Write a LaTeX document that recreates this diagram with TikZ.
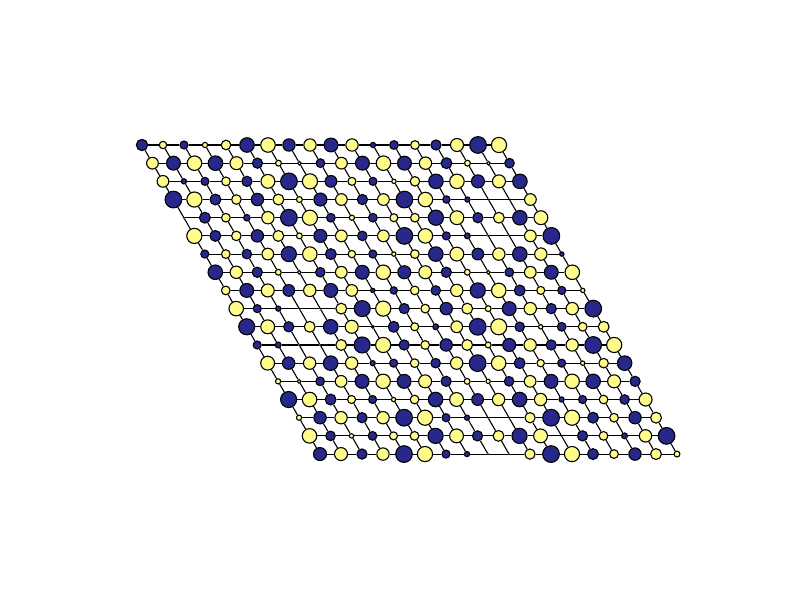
\documentclass[tikz,border=0pt]{standalone}
\usepackage{tikz}
\definecolor{navy}{RGB}{40,40,140}
\definecolor{lemon}{RGB}{255,252,140}
% one row of sites: row index, list of column/style/radius (px)
\newcommand{\siterow}[2]{%
  \foreach \c/\t/\s in {#2}
    \node[\t,minimum size={(2.16*\s-0.6)*0.3mm}] (s#1-\c)
      at ({142+21*\c+10.47*#1},{145+18.18*#1}) {};}

\begin{document}
\begin{tikzpicture}[
  x=0.3mm,y=-0.3mm,
  site/.style={draw=black,circle,inner sep=0pt,line width=0.33mm},
  nv/.style={site,fill=navy},
  yl/.style={site,fill=lemon},
  zr/.style={site,fill=black,line width=0.2mm},
  bond/.style={line width=0.33mm}
]
\useasboundingbox (0,0) rectangle (800,600);

\siterow{0}{0/nv/5.5,1/yl/3.7,2/nv/4,3/yl/2.7,4/yl/4.7,5/nv/7,6/yl/7,7/nv/6,8/yl/6,9/nv/6.7,10/yl/6,11/nv/2.7,12/nv/4.3,13/yl/4.3,14/nv/5,15/yl/6.3,16/nv/8,17/yl/7.3}
\siterow{1}{0/yl/5.7,1/nv/6.7,2/yl/7,3/nv/7,4/yl/6.3,5/nv/5,6/yl/3,7/yl/2,8/nv/4.3,9/yl/5.7,10/nv/6.7,11/yl/7,12/nv/6.7,13/yl/6,14/nv/5.3,15/yl/3,16/yl/2,17/nv/4.7}
\siterow{2}{0/yl/5.7,1/nv/2.7,2/nv/4,3/yl/4.3,4/nv/5,5/yl/6.7,6/nv/8,7/yl/7.3,8/nv/5.7,9/yl/4,10/nv/4,11/yl/2.3,12/yl/4.7,13/nv/7,14/yl/7,15/nv/6.3,16/yl/6.3,17/nv/7}
\siterow{3}{0/nv/8,1/yl/7.3,2/nv/5.3,3/yl/4.7,4/nv/6,5/yl/5.3,6/yl/3,7/nv/6.3,8/yl/5.7,9/nv/5,10/yl/5.7,11/nv/8,12/yl/7,13/nv/3.7,14/nv/2.7,15/zr/0.8,16/zr/0.8,17/yl/5.7}
\siterow{4}{0/zr/0.8,1/nv/5.3,2/yl/4.3,3/nv/3.3,4/yl/6,5/nv/8,6/yl/7.3,7/nv/4.3,8/yl/2.7,9/nv/4.3,10/yl/4,11/yl/4.3,12/nv/7.3,13/yl/6.7,14/nv/5,15/yl/5.3,16/nv/7,17/yl/6.7}
\siterow{5}{0/yl/7.3,1/nv/5.3,2/yl/4.7,3/nv/6,4/yl/5.3,5/yl/3,6/nv/6.3,7/yl/5.7,8/nv/4.7,9/yl/5.7,10/nv/8,11/yl/7,12/nv/4,13/nv/3,14/zr/0.8,15/zr/0.8,16/yl/5.7,17/nv/8}
\siterow{6}{0/nv/4,1/yl/4.3,2/nv/4.7,3/yl/5.7,4/nv/7.3,5/yl/7,6/nv/5.3,7/yl/3.7,8/nv/4,9/yl/2.3,10/yl/4.3,11/nv/7,12/yl/6.7,13/nv/5.7,14/yl/6,15/nv/7,16/yl/6,17/nv/2.3}
\siterow{7}{0/nv/7,1/yl/6,2/nv/5,3/yl/3,4/yl/2,5/nv/4.7,6/yl/5.7,7/nv/6.7,8/yl/7,9/nv/6.3,10/yl/6.3,11/nv/5,12/yl/3,13/yl/2,14/nv/4.3,15/yl/5.7,16/nv/6.7,17/yl/7}
\siterow{8}{0/yl/4.3,1/nv/6.7,2/yl/6.3,3/nv/5.7,4/yl/6,5/nv/6.7,6/yl/5.7,7/nv/2.3,8/nv/3.7,9/yl/4.3,10/nv/4.7,11/yl/6,12/nv/7.3,13/yl/7,14/nv/5.3,15/yl/4,16/nv/4,17/yl/2.3}
\siterow{9}{0/yl/7,1/nv/4,2/nv/2.7,3/zr/0.8,4/zr/0.8,5/yl/5.3,6/nv/7.7,7/yl/7.3,8/nv/5,9/yl/4.3,10/nv/6,11/yl/5.3,12/yl/3,13/nv/6.7,14/yl/6,15/nv/5,16/yl/6,17/nv/8}
\siterow{10}{0/nv/7.7,1/yl/6.7,2/nv/5,3/yl/5.3,4/nv/7,5/yl/6.3,6/nv/1.5,7/nv/5.3,8/yl/4,9/nv/3,10/yl/5.7,11/nv/8,12/yl/7.7,13/nv/4.7,14/yl/2.3,15/nv/4.3,16/yl/4.3,17/yl/5.3}
\siterow{11}{0/nv/4,1/nv/3,2/zr/0.8,3/zr/0.8,4/yl/5.3,5/nv/7.7,6/yl/7.3,7/nv/5,8/yl/4.3,9/nv/6,10/yl/5.3,11/yl/3,12/nv/6.3,13/yl/6,14/nv/5,15/yl/6,16/nv/8,17/yl/7.3}
\siterow{12}{0/yl/6.7,1/nv/6,2/yl/6,3/nv/7,4/yl/6,5/nv/2.7,6/nv/4,7/yl/4.3,8/nv/4.7,9/yl/6,10/nv/8,11/yl/7,12/nv/5.3,13/yl/3.7,14/nv/4,15/yl/2.3,16/yl/4.7,17/nv/7}
\siterow{13}{0/yl/2.7,1/yl/2,2/nv/4.3,3/yl/5.7,4/nv/6.7,5/yl/7,6/nv/6.7,7/yl/6.3,8/nv/5,9/yl/3,10/yl/2.3,11/nv/4.7,12/yl/5.7,13/nv/6.7,14/yl/7,15/nv/7,16/yl/6.3,17/nv/5}
\siterow{14}{0/nv/7.7,1/yl/7,2/nv/5.3,3/yl/4,4/nv/4,5/yl/2.3,6/yl/4.3,7/nv/7,8/yl/6.7,9/nv/5.7,10/yl/6,11/nv/7,12/yl/6,13/nv/2.7,14/nv/4,15/yl/4.3,16/nv/4.7,17/yl/6.3}
\siterow{15}{0/yl/2.7,1/nv/6,2/yl/6,3/nv/5,4/yl/6,5/nv/8,6/yl/7.3,7/nv/4,8/nv/2.7,9/zr/0.8,10/zr/0.8,11/yl/5,12/nv/8,13/yl/7.3,14/nv/5.3,15/yl/4.3,16/nv/6,17/yl/5.3}
\siterow{16}{0/yl/7,1/nv/4.7,2/yl/2.3,3/nv/4.3,4/yl/4,5/yl/4.3,6/nv/7.3,7/yl/6.7,8/nv/5,9/yl/5.3,10/nv/7.3,11/yl/6.7,12/zr/0.8,13/nv/5,14/yl/4.3,15/nv/3,16/yl/6,17/nv/8}
\siterow{17}{0/nv/6.3,1/yl/6.3,2/nv/5,3/yl/6,4/nv/8,5/yl/7.3,6/nv/4,7/nv/2.7,8/zr/0.8,9/zr/0.8,10/yl/5,11/nv/8,12/yl/7.3,13/nv/5.3,14/yl/4.3,15/nv/6,16/yl/5.3,17/yl/3}

% bonds along rows and down the columns
\foreach \r in {0,...,17}
  \foreach \c [count=\k] in {0,...,16}
    \draw[bond] (s\r-\c) -- (s\r-\k);
\foreach \r [count=\q] in {0,...,16}
  \foreach \c in {0,...,17}
    \draw[bond] (s\r-\c) -- (s\q-\c);

\end{tikzpicture}
\end{document}
